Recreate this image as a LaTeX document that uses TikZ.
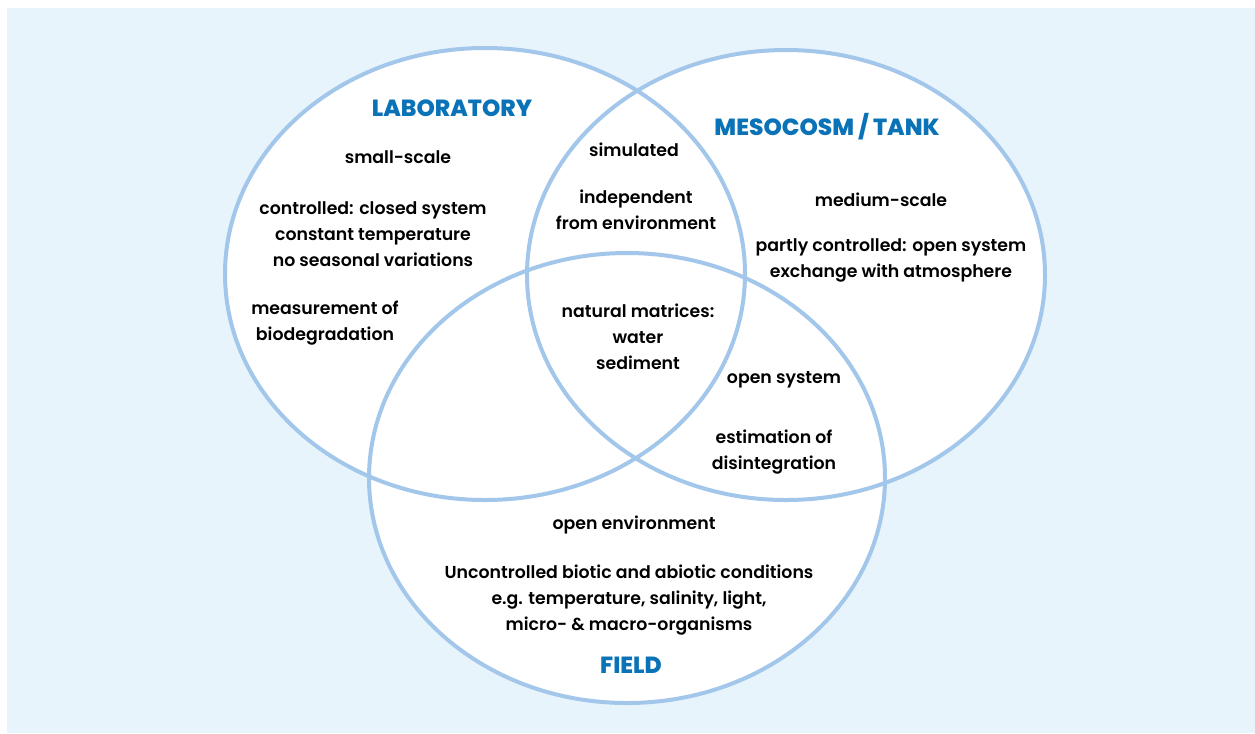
\documentclass[tikz,border=0pt]{standalone}
\usepackage{fontspec}
\setmainfont{Poppins}[UprightFont=* SemiBold, BoldFont=* ExtraBold]
\definecolor{bgblue}{HTML}{E8F4FC}
\definecolor{ringblue}{HTML}{A2C7EB}
\definecolor{titleblue}{HTML}{0A72B6}
\tikzset{
  ring/.style={draw=ringblue, line width=3pt},
  body/.style={align=center, font=\fontsize{13pt}{19.5pt}\selectfont, text=black, inner sep=0pt},
  title/.style={font=\fontsize{17.5pt}{20pt}\selectfont\bfseries, text=titleblue, inner sep=0pt},
}
\begin{document}
\begin{tikzpicture}[x=0.75pt, y=-0.75pt]
\useasboundingbox (0,0) rectangle (1255,733);
\fill[bgblue] (7,8) rectangle (1255,733);
% fills
\fill[white] (485,274) ellipse [x radius=260, y radius=226];
\fill[white] (786,275) ellipse [x radius=259, y radius=225];
\fill[white] (627,478) ellipse [x radius=258, y radius=225];
% outlines
\draw[ring] (485,274) ellipse [x radius=260, y radius=226];
\draw[ring] (786,275) ellipse [x radius=259, y radius=225];
\draw[ring] (627,478) ellipse [x radius=258, y radius=225];
% Laboratory
\node[title] (lab) at (452,108) {LABORATORY};
\node[body] (lab1) at (398,157) {small-scale};
\node[body] (lab2) at (373,234) {controlled: closed system\\constant temperature\\no seasonal variations};
\node[body] (lab3) at (325,323) {measurement of\\biodegradation};
% Lab & Meso
\node[body] (lm1) at (634,150) {simulated};
\node[body] (lm2) at (636,210) {independent\\from environment};
% Mesocosm
\node[title] (meso) at (827,127) {MESOCOSM / TANK};
\node[body] (m1) at (881,200) {medium-scale};
\node[body] (m2) at (891,260) {partly controlled: open system\\exchange with atmosphere};
% center
\node[body] (c1) at (638,337) {natural matrices:\\water\\sediment};
% Meso & Field
\node[body] (mf1) at (784,380) {open system};
\node[body] (mf2) at (774,452) {estimation of\\disintegration};
% Field
\node[body] (f1) at (634,525) {open environment};
\node[body] (f2) at (629,600) {Uncontrolled biotic and abiotic conditions\\e.g. temperature, salinity, light,\\micro- \& macro-organisms};
\node[title] (field) at (631,665) {FIELD};
\end{tikzpicture}
\end{document}
